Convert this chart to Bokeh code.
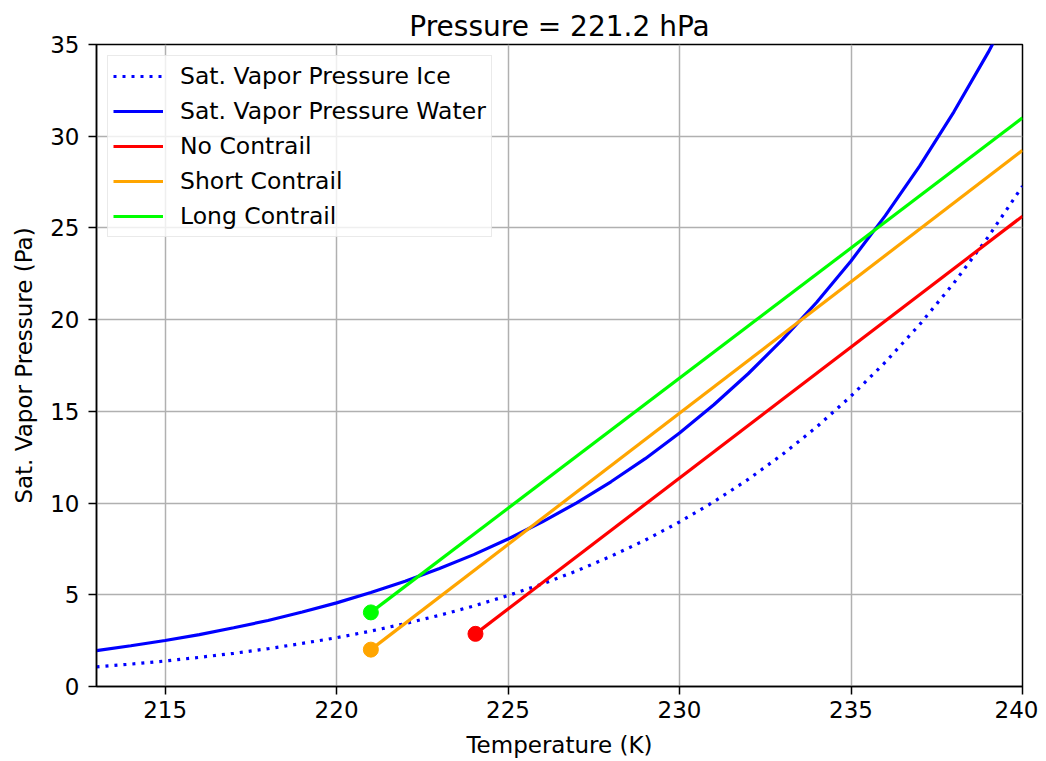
from bokeh.plotting import figure
from bokeh.models import FixedTicker, Range1d
from bokeh.embed import file_html
from bokeh.resources import INLINE

# Temperature grid (K)
temperature = [213, 214, 215, 216, 217, 218, 219, 220, 221, 222, 223, 224, 225, 226,
               227, 228, 229, 230, 231, 232, 233, 234, 235, 236, 237, 238, 239, 240]

# Saturation vapor pressure over ice (Pa)
sat_ice = [1.07, 1.22, 1.39, 1.59, 1.81, 2.06, 2.35, 2.66, 3.02, 3.43, 3.88, 4.39, 4.96, 5.59,
           6.30, 7.10, 7.98, 8.97, 10.07, 11.29, 12.65, 14.15, 15.83, 17.68, 19.73, 22.00, 24.51, 27.28]

# Saturation vapor pressure over water (Pa)
sat_water = [1.96, 2.22, 2.51, 2.83, 3.20, 3.60, 4.06, 4.56, 5.12, 5.74, 6.43, 7.19, 8.04, 8.98,
             10.01, 11.16, 12.42, 13.82, 15.36, 17.05, 18.91, 20.95, 23.20, 25.67, 28.37, 31.33, 34.57, 38.11]

# Mixing lines (start point marked with a dot)
no_contrail_T = [224.05, 240.0]
no_contrail_P = [2.87, 25.64]
short_contrail_T = [221.0, 240.0]
short_contrail_P = [2.01, 29.23]
long_contrail_T = [221.0, 240.0]
long_contrail_P = [4.04, 31.0]

x_ticks = [215, 220, 225, 230, 235, 240]
y_ticks = [0, 5, 10, 15, 20, 25, 30, 35]
title_text = "Pressure = 221.2 hPa"

FONT = "DejaVu Sans"
LW = 3.2

p = figure(width=1038, height=760, output_backend="svg", toolbar_location=None,
           x_range=Range1d(213, 240), y_range=Range1d(0, 35),
           title=title_text,
           min_border_left=96, min_border_right=16, min_border_top=44, min_border_bottom=73)

p.title.align = "center"
p.title.vertical_align = "top"
p.title.text_font = FONT
p.title.text_font_size = "28px"
p.title.text_font_style = "normal"
p.title.text_color = "black"
p.title.standoff = 0

p.line(temperature, sat_ice, line_color="#0000ff", line_width=LW, line_dash="3 6",
       legend_label="Sat. Vapor Pressure Ice")
p.line(temperature, sat_water, line_color="#0000ff", line_width=LW,
       legend_label="Sat. Vapor Pressure Water")
p.line(no_contrail_T, no_contrail_P, line_color="#ff0000", line_width=LW, legend_label="No Contrail")
p.line(short_contrail_T, short_contrail_P, line_color="#ffa500", line_width=LW, legend_label="Short Contrail")
p.line(long_contrail_T, long_contrail_P, line_color="#00ff00", line_width=LW, legend_label="Long Contrail")

p.scatter([no_contrail_T[0]], [no_contrail_P[0]], size=15, color="#ff0000")
p.scatter([short_contrail_T[0]], [short_contrail_P[0]], size=15, color="#ffa500")
p.scatter([long_contrail_T[0]], [long_contrail_P[0]], size=15, color="#00ff00")

p.xaxis.ticker = FixedTicker(ticks=x_ticks)
p.yaxis.ticker = FixedTicker(ticks=y_ticks)
p.xaxis.axis_label = "Temperature (K)"
p.yaxis.axis_label = "Sat. Vapor Pressure (Pa)"

for ax in (p.xaxis, p.yaxis):
    ax.axis_label_text_font = FONT
    ax.axis_label_text_font_size = "23px"
    ax.axis_label_text_font_style = "normal"
    ax.axis_label_text_color = "black"
    ax.major_label_text_font = FONT
    ax.major_label_text_font_size = "23px"
    ax.major_label_text_color = "black"
    ax.major_tick_in = 0
    ax.major_tick_out = 8
    ax.major_tick_line_width = 1.5
    ax.minor_tick_line_color = None
    ax.axis_line_width = 1.5
    ax.axis_line_color = "black"

p.yaxis.major_label_standoff = 9
p.xaxis.major_label_standoff = 6
p.yaxis.axis_label_standoff = 10
p.xaxis.axis_label_standoff = 11

p.outline_line_color = "black"
p.outline_line_width = 1.5
p.outline_line_alpha = 1.0

p.grid.grid_line_color = "#b0b0b0"
p.grid.grid_line_width = 1.5

lg = p.legend[0]
lg.location = "top_left"
lg.margin = 11
lg.padding = 5
lg.spacing = 5
lg.glyph_width = 50
lg.glyph_height = 30
lg.label_height = 30
lg.label_standoff = 17
lg.label_text_font = FONT
lg.label_text_font_size = "23.5px"
lg.label_text_color = "black"
lg.border_line_color = "#d6d6d6"
lg.border_line_width = 1.5
lg.background_fill_alpha = 0.8

open("out.html", "w").write(file_html(p, INLINE))
